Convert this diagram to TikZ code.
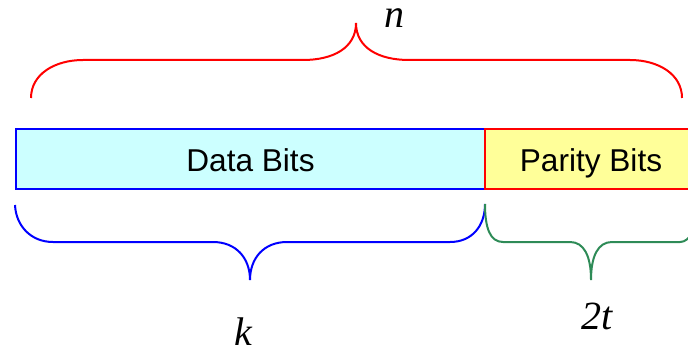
\documentclass[tikz,border=0pt]{standalone}
\usepackage{fontspec}
\setmainfont{Liberation Sans}
\newfontfamily\labelfont{Liberation Serif}
\usepackage{tikz}
\usetikzlibrary{calc,positioning}
\definecolor{datafill}{RGB}{204,255,255}
\definecolor{parityfill}{RGB}{255,255,153}
\definecolor{bracegreen}{RGB}{46,139,87}

\begin{document}
\begin{tikzpicture}[
    x=0.5pt,y=-0.5pt,
    field/.style={draw=#1,line width=1pt,inner sep=0pt,minimum height=30pt,
                  text height=12pt,text depth=0pt,
                  font=\fontsize{15.8}{18}\selectfont},
    brace/.style={draw=#1,line width=1pt},
    lbl/.style={font=\labelfont\itshape\fontsize{20}{24}\selectfont,anchor=base,inner sep=0pt},
]
\useasboundingbox (0,0) rectangle (688,347);

% Codeword fields
\node[field=blue,fill=datafill,minimum width=234.5pt] (data) at (250.5,159) {Data Bits};
\node[field=red,fill=parityfill,minimum width=106pt] (parity) at (591,159) {Parity Bits};

% Brace over the whole codeword
\path[brace=red] (31,98) .. controls (31,74) and (55,60) .. (83,60) -- (303,60)
      .. controls (333,60) and (356,48) .. (356,23)
      .. controls (356,48) and (379,60) .. (409,60) -- (630,60)
      .. controls (658,60) and (682,74) .. (682,98);
\node[lbl] (n) at (394,28) {n};

% Brace under the data bits
\path[brace=blue] (data.south west) ++(0,15) coordinate (k0)
      (k0) .. controls (16,226) and (31,242) .. (53,242) -- (213,242)
      .. controls (236,242) and (250,258) .. (250,280)
      .. controls (250,258) and (264,242) .. (287,242) -- (450,242)
      .. controls (472,242) and (485,226) .. (485,204);
\node[lbl] (k) at (243,345) {k};

% Brace under the parity bits
\path[brace=bracegreen] (485,204) .. controls (485,228) and (490,242) .. (503,242) -- (570,242)
      .. controls (584,242) and (591,256) .. (591,280)
      .. controls (591,256) and (598,242) .. (612,242) -- (680,242)
      .. controls (690,242) and (697,228) .. (697,204);
\node[lbl] (twot) at (597,329) {2t};

\end{tikzpicture}
\end{document}
